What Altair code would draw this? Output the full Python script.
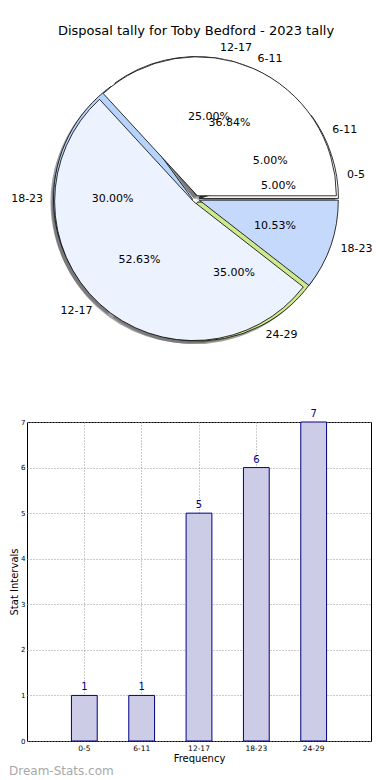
import math
import altair as alt
import pandas as pd

# ---------------- data ----------------
chart_title = "Disposal tally for Toby Bedford - 2023 tally"

# pie 1 (drawn underneath)
pie1_labels = ["0-5", "6-11", "12-17", "18-23", "24-29"]
pie1_values = [1, 1, 5, 6, 7]
pie1_colors = ["#ffffff", "#ffffff", "#ffffff", "#b5d3fb", "#cfe98d"]

# pie 2 (drawn on top)
pie2_labels = ["6-11", "12-17", "18-23"]
pie2_values = [7, 10, 2]
pie2_colors = ["#ffffff", "#ecf2fe", "#c5d9fd"]

# bar chart
bar_cats = ["0-5", "6-11", "12-17", "18-23", "24-29"]
bar_counts = [1, 1, 5, 6, 7]

watermark = "Dream-Stats.com"

FONT = "DejaVu Sans"
R = 139
EXPLODE = 3.5

pie1_df = pd.DataFrame({"idx": range(len(pie1_labels)), "label": pie1_labels,
                        "value": pie1_values, "color": pie1_colors})
pie2_df = pd.DataFrame({"idx": range(len(pie2_labels)), "label": pie2_labels,
                        "value": pie2_values, "color": pie2_colors})

theta_scale = alt.Scale(range=[math.pi / 2, -1.5 * math.pi])


def base(df):
    return (
        alt.Chart(df)
        .transform_joinaggregate(total="sum(value)")
        .transform_window(cum="sum(value)", sort=[alt.SortField("idx")])
        .transform_calculate(
            mid="(datum.cum - datum.value / 2) / datum.total",
            pct="format(datum.value / datum.total * 100, '.2f') + '%'",
        )
        .transform_calculate(
            labL="cos(2 * PI * datum.mid) >= 0 ? datum.label : ''",
            labR="cos(2 * PI * datum.mid) >= 0 ? '' : datum.label",
        )
        .encode(
            theta=alt.Theta("value:Q", stack="normalize", scale=theta_scale),
            order=alt.Order("idx:Q"),
        )
    )


def explode_x(extra=0):
    return alt.ExprRef(expr=f"{EXPLODE} * cos(2 * PI * datum.mid) + ({extra})")


def explode_y(extra=0):
    return alt.ExprRef(expr=f"-{EXPLODE} * sin(2 * PI * datum.mid) + ({extra})")


def shadow_layer(df):
    return base(df).mark_arc(outerRadius=R, fill="#606060", opacity=0.6,
                             xOffset=explode_x(-3), yOffset=explode_y(3))


def pie_layers(df):
    b = base(df)
    arcs = b.mark_arc(outerRadius=R, stroke="black", strokeWidth=0.8,
                      xOffset=explode_x(), yOffset=explode_y()).encode(
        fill=alt.Fill("color:N", scale=None))
    pct = b.mark_text(radius=R * 0.6, fontSize=11, font=FONT, color="black",
                      baseline="middle").encode(text="pct:N")
    labL = b.mark_text(radius=R * 1.1, fontSize=11, font=FONT, color="black",
                       align="left", baseline="middle").encode(text="labL:N")
    labR = b.mark_text(radius=R * 1.1, fontSize=11, font=FONT, color="black",
                       align="right", baseline="middle").encode(text="labR:N")
    return arcs, pct, labL, labR


s1 = shadow_layer(pie1_df)
s2 = shadow_layer(pie2_df)
a1, p1, l1, r1 = pie_layers(pie1_df)
a2, p2, l2, r2 = pie_layers(pie2_df)

PIE_W = 338
title_df = pd.DataFrame({"t": [chart_title]})
title_txt = alt.Chart(title_df).mark_text(fontSize=13, font=FONT, color="black",
                                          baseline="middle").encode(
    text="t:N", x=alt.value(PIE_W / 2), y=alt.value(22))

pie = alt.layer(s1, s2, a1, a2, p1, p2, l1, r1, l2, r2, title_txt).properties(
    width=PIE_W, height=380)

# ---------------- bar chart ----------------
bar_df = pd.DataFrame({"cat": bar_cats, "count": bar_counts})

x_enc = alt.X(
    "cat:N", sort=bar_cats, title="Frequency",
    scale=alt.Scale(paddingInner=0.55, paddingOuter=0.775),
    axis=alt.Axis(labelAngle=0, grid=True, gridDash=[1, 2], gridColor="#999999",
                  bandPosition=0.5, ticks=False, domain=False, labelFontSize=7.5,
                  labelPadding=3, titleFontSize=10, titlePadding=2,
                  labelColor="black", titleColor="black", titleFontWeight="normal"),
)
y_enc = alt.Y(
    "count:Q", title="Stat Intervals",
    scale=alt.Scale(domain=[0, 7], nice=False),
    axis=alt.Axis(values=list(range(8)), grid=True, gridDash=[1, 2], gridColor="#999999",
                  ticks=False, domain=False, labelFontSize=7, labelPadding=2,
                  titleFontSize=10, titlePadding=1, labelColor="black",
                  titleColor="black", titleFontWeight="normal"),
)

bars = alt.Chart(bar_df).mark_bar(fill="#ccccE6", stroke="#000080",
                                  strokeWidth=1).encode(x=x_enc, y=y_enc)
vals = alt.Chart(bar_df).mark_text(color="#000080", fontSize=10, font=FONT,
                                   baseline="bottom", dy=-3).encode(
    x=x_enc, y=y_enc, text="count:Q")

wm_df = pd.DataFrame({"t": [watermark]})
wm = alt.Chart(wm_df).mark_text(fontSize=12, font=FONT, color="#a8a8a8",
                                align="left", baseline="middle").encode(
    text="t:N", x=alt.value(-18), y=alt.value(349))

bar = alt.layer(bars, vals, wm).properties(
    width=344, height=319,
    view=alt.ViewBackground(stroke="black", strokeWidth=1),
)

chart = alt.vconcat(pie, bar, spacing=33, bounds="flush").properties(
    padding={"left": 0, "top": 0, "right": 0, "bottom": 0}
).configure(font=FONT).configure_view(stroke="transparent")

chart.save("out.html", embed_options={"renderer": "svg", "actions": False})
